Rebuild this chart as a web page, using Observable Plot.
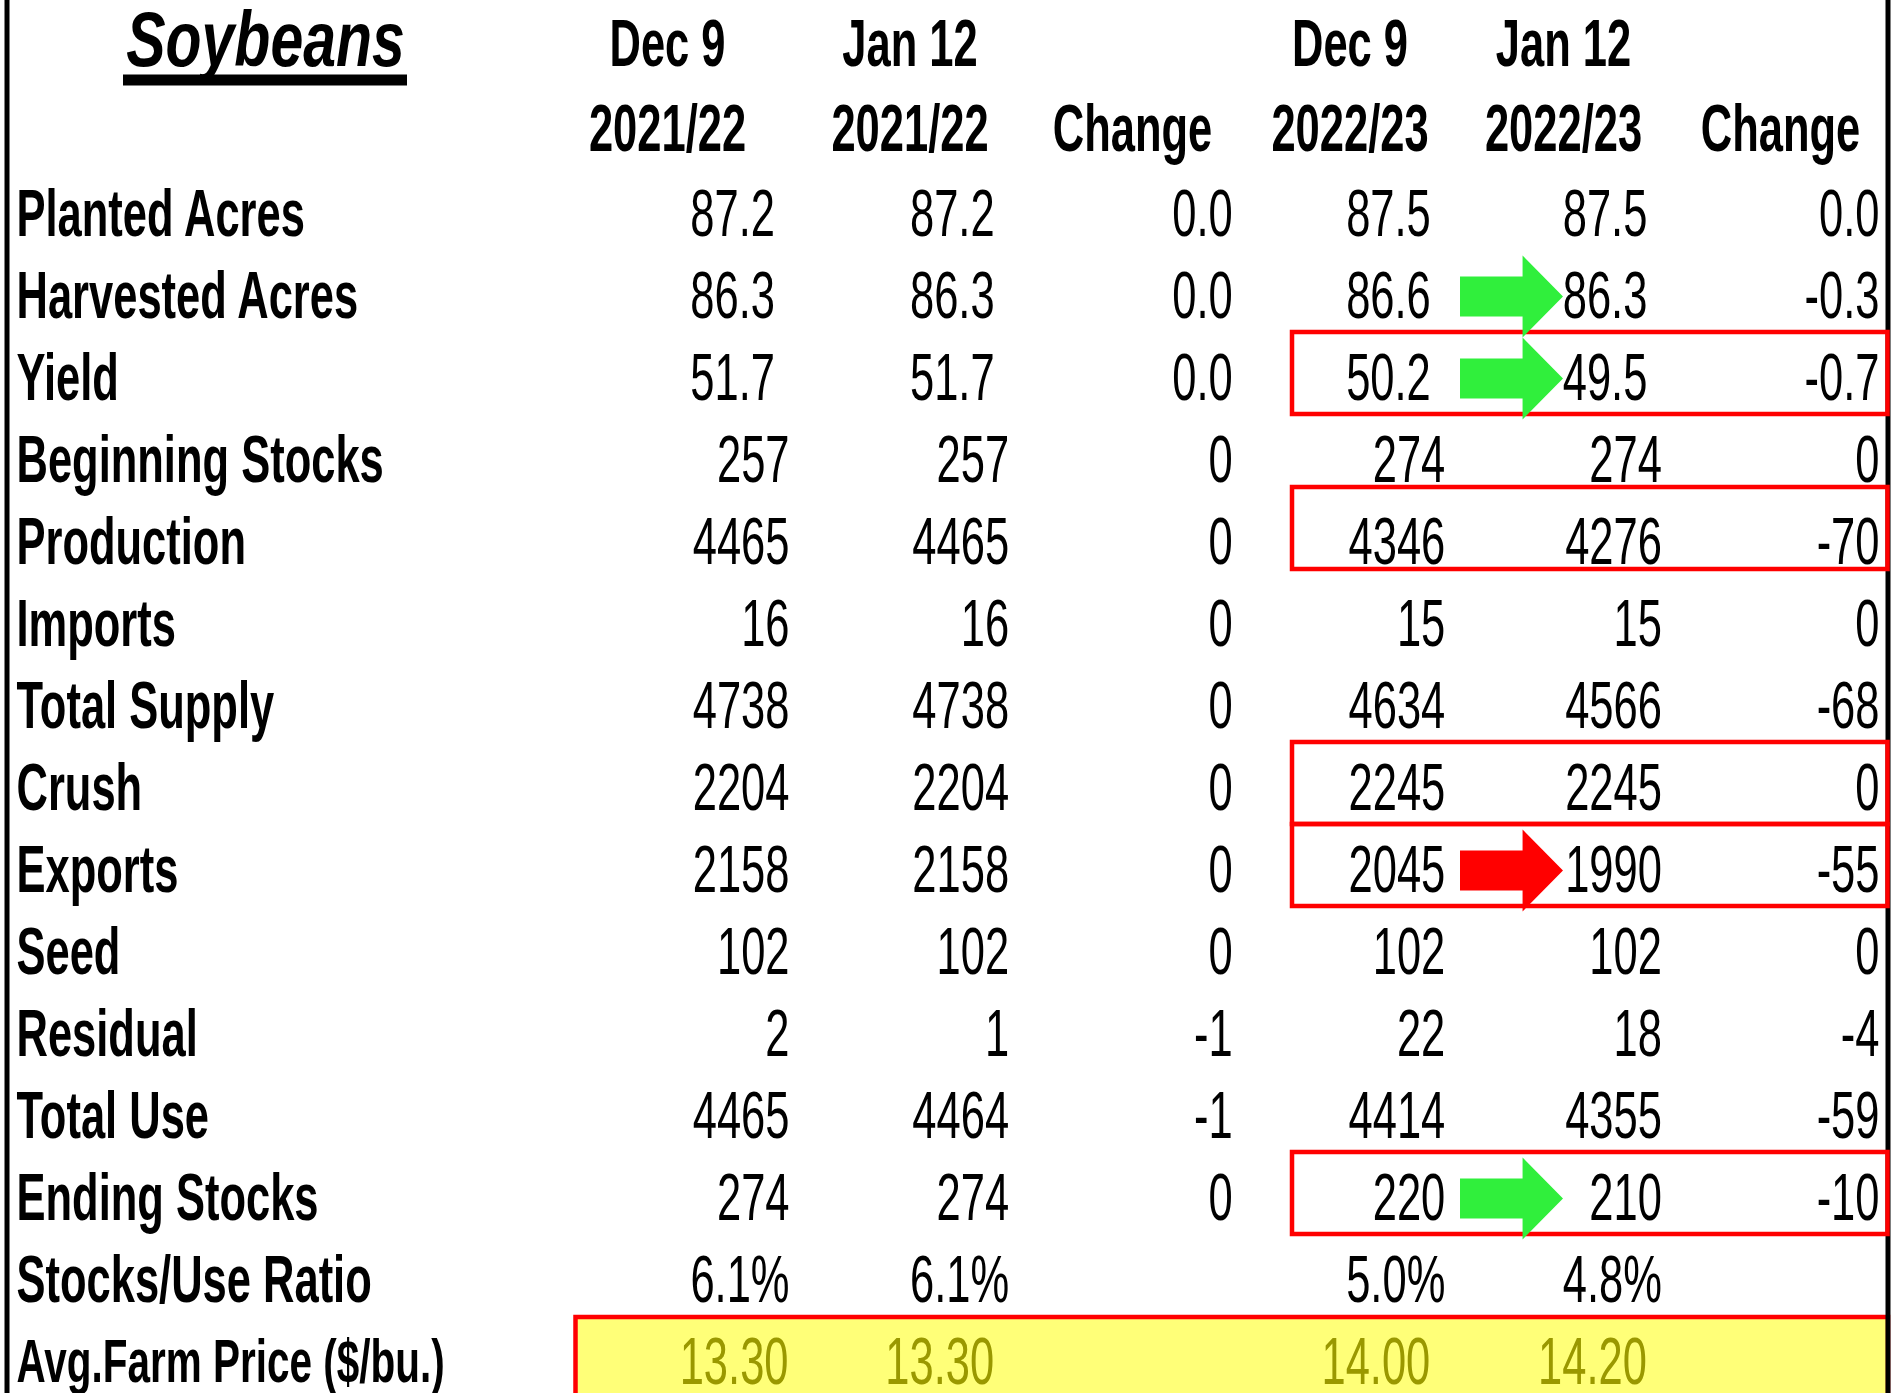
<!DOCTYPE html>
<html>
<head>
<meta charset="utf-8">
<script src="https://cdn.jsdelivr.net/npm/d3@7"></script>
<script src="https://cdn.jsdelivr.net/npm/@observablehq/plot@0.6"></script>
<style>
  html, body { margin: 0; padding: 0; background: #fff; }
  #chart svg { display: block; }
</style>
</head>
<body>
<div id="chart"></div>
<script>
// ---------------- data ----------------
const rowLabels = ["Planted Acres", "Harvested Acres", "Yield", "Beginning Stocks", "Production",
  "Imports", "Total Supply", "Crush", "Exports", "Seed", "Residual", "Total Use",
  "Ending Stocks", "Stocks/Use Ratio", "Avg.Farm Price ($/bu.)"];
const columns = ["c1", "c2", "c3", "c4", "c5", "c6"];
const headerLine1 = ["Dec 9", "Jan 12", "", "Dec 9", "Jan 12", ""];
const headerLine2 = ["2021/22", "2021/22", "Change", "2022/23", "2022/23", "Change"];
const dec9_2122  = [87.2, 86.3, 51.7, 257, 4465, 16, 4738, 2204, 2158, 102, 2, 4465, 274, 6.1, 13.30];
const jan12_2122 = [87.2, 86.3, 51.7, 257, 4465, 16, 4738, 2204, 2158, 102, 1, 4464, 274, 6.1, 13.30];
const chg_2122   = [0.0, 0.0, 0.0, 0, 0, 0, 0, 0, 0, 0, -1, -1, 0, null, null];
const dec9_2223  = [87.5, 86.6, 50.2, 274, 4346, 15, 4634, 2245, 2045, 102, 22, 4414, 220, 5.0, 14.00];
const jan12_2223 = [87.5, 86.3, 49.5, 274, 4276, 15, 4566, 2245, 1990, 102, 18, 4355, 210, 4.8, 14.20];
const chg_2223   = [0.0, -0.3, -0.7, 0, -70, 0, -68, 0, -55, 0, -4, -59, -10, null, null];
const title = "Soybeans";
const boxedRows = ["Yield", "Crush", "Exports", "Ending Stocks"];
const boxedRowsHigh = ["Production"];
const greenArrowRows = ["Harvested Acres", "Yield", "Ending Stocks"];
const redArrowRows = ["Exports"];
const priceRow = "Avg.Farm Price ($/bu.)";

// ---------------- table building ----------------
const series = [dec9_2122, jan12_2122, chg_2122, dec9_2223, jan12_2223, chg_2223];
function fmt(v, i) {
  if (v == null) return null;
  if (i < 3) return v.toFixed(1);
  if (i === 13) return v.toFixed(1) + "%";
  if (i === 14) return v.toFixed(2);
  return String(v);
}
const cells = [];
series.forEach((s, j) => s.forEach((v, i) => {
  const t = fmt(v, i);
  if (t != null) cells.push({row: rowLabels[i], col: columns[j], text: t, i, j});
}));
const headerCells = [];
columns.forEach((c, j) => {
  if (headerLine1[j]) headerCells.push({row: "_h1", col: c, text: headerLine1[j], j});
  headerCells.push({row: "_h2", col: c, text: headerLine2[j], j});
});

// ---------------- styles ----------------
const FONT = "'Liberation Sans', Arial, Helvetica, sans-serif";
const FS = 43.5;
const ROW_H = 82.14;
const Y0 = 8;
const yDomain = ["_h1", "_h2"].concat(rowLabels);
const colShift = [0, 1.6, 7.2, 1.8, 0.4, 0];
const headerDx = [-122, -97.5, -93, -93.5, -98, -99];
const changeCols = new Set([2, 5]);
const GREEN = "#30ef3c", RED = "#ff0000", YELLOW = "#ffff78", OLIVE = "#9a9800";

const blockArrow = {
  draw(ctx, size) {
    const r = Math.sqrt(size / Math.PI);
    const L = 1.256 * r, s = 0.49 * r, b = 0.27 * r;
    ctx.moveTo(-L, -s); ctx.lineTo(b, -s); ctx.lineTo(b, -r);
    ctx.lineTo(L, 0); ctx.lineTo(b, r); ctx.lineTo(b, s); ctx.lineTo(-L, s); ctx.closePath();
  }
};

const marks = [];
// yellow highlighted price row
marks.push(Plot.barX([priceRow], {y: d => d, x1: () => "c1", x2: () => "c6",
  insetLeft: -213.5, insetRight: -9, insetBottom: -40, dy: -4,
  fill: YELLOW, stroke: RED, strokeWidth: 4.5}));
// left & right border lines
marks.push(Plot.ruleX(["c1"], {x: d => d, dx: -782.5, stroke: "black", strokeWidth: 5}));
marks.push(Plot.ruleX(["c6"], {x: d => d, dx: 8.5, stroke: "black", strokeWidth: 5}));
// red boxes
marks.push(Plot.barX(boxedRows, {y: d => d, x1: () => "c4", x2: () => "c6",
  insetLeft: -151, insetRight: -8.5, dy: -5, fill: "none", stroke: RED, strokeWidth: 4.5}));
marks.push(Plot.barX(boxedRowsHigh, {y: d => d, x1: () => "c4", x2: () => "c6",
  insetLeft: -151, insetRight: -8.5, dy: -14, fill: "none", stroke: RED, strokeWidth: 4.5}));

// title + underline
marks.push(Plot.text([title], {y: () => "_h1", frameAnchor: "left", textAnchor: "middle",
  dx: 249, dy: -9, fontSize: 59, fontWeight: "bold", fontStyle: "italic", fill: "black"}));
marks.push(Plot.ruleY(["_h1"], {y: d => d, insetLeft: 107, insetRight: 1473, dy: 29.5,
  stroke: "black", strokeWidth: 11}));

// row labels
marks.push(Plot.text(rowLabels.filter(r => r !== priceRow), {y: d => d, frameAnchor: "left",
  textAnchor: "start", fontSize: FS, fontWeight: "bold", fill: "black"}));
marks.push(Plot.text([priceRow], {y: d => d, frameAnchor: "left",
  textAnchor: "start", fontSize: 40.5, fontWeight: "bold", fill: "black"}));

// headers and values, per column
columns.forEach((c, j) => {
  marks.push(Plot.text(headerCells.filter(d => d.j === j && d.row === "_h1"), {
    x: "col", y: "row", text: "text", dx: headerDx[j], dy: -5.6, textAnchor: "middle",
    fontSize: FS, fontWeight: "bold", fill: "black"}));
  marks.push(Plot.text(headerCells.filter(d => d.j === j && d.row === "_h2"), {
    x: "col", y: "row", text: "text", dx: headerDx[j], dy: -3, textAnchor: "middle",
    fontSize: FS, fontWeight: "bold", fill: "black"}));
  const mine = cells.filter(d => d.j === j);
  const padded = d => d.i < 3 && !changeCols.has(j);
  marks.push(Plot.text(mine.filter(d => d.i !== 14 && !padded(d)), {
    x: "col", y: "row", text: "text", dx: colShift[j], textAnchor: "end",
    fontSize: FS, fill: "black"}));
  marks.push(Plot.text(mine.filter(d => d.i !== 14 && padded(d)), {
    x: "col", y: "row", text: "text", dx: colShift[j] - 14.5, textAnchor: "end",
    fontSize: FS, fill: "black"}));
  marks.push(Plot.text(mine.filter(d => d.i === 14), {
    x: "col", y: "row", text: "text", dx: colShift[j] + (j === 0 ? -1 : -15), textAnchor: "end",
    fontSize: FS, fill: OLIVE}));
});

// arrows
marks.push(Plot.dot(greenArrowRows, {x: () => "c5", y: d => d, r: 41, symbol: blockArrow,
  dx: -150, fill: GREEN, stroke: "none"}));
marks.push(Plot.dot(redArrowRows, {x: () => "c5", y: d => d, r: 41, symbol: blockArrow,
  dx: -150, fill: RED, stroke: "none"}));

const chart = Plot.plot({
  width: 1891,
  height: 1393,
  marginTop: 0, marginBottom: 0, marginLeft: 16, marginRight: 11,
  style: {fontFamily: FONT, background: "white", color: "black", overflow: "hidden"},
  x: {type: "point", domain: columns, range: [788, 1880], padding: 0, axis: null},
  y: {type: "band", domain: yDomain, range: [Y0, Y0 + ROW_H * yDomain.length], padding: 0, align: 0.5, axis: null},
  marks
});
document.getElementById("chart").append(chart);

// vertical stretch of glyphs (the source table uses tall condensed lettering)
chart.querySelectorAll("text").forEach(t => {
  const fs = parseFloat(getComputedStyle(t).fontSize);
  const k = fs > 50 ? 1.32 : (fs < 42 ? 1.5 : 1.55);
  const tr = t.getAttribute("transform");
  if (tr) {
    t.setAttribute("transform", tr + ` scale(1,${k})`);
  } else {
    const x = parseFloat(t.getAttribute("x")) || 0;
    const yAttr = t.getAttribute("y") || "0";
    if (/em$/.test(yAttr)) {
      t.setAttribute("transform", `translate(${x},0) scale(1,${k})`);
      t.setAttribute("x", 0);
    } else {
      t.setAttribute("transform", `translate(${x},${parseFloat(yAttr) || 0}) scale(1,${k})`);
      t.setAttribute("x", 0); t.setAttribute("y", 0);
    }
  }
});
</script>
</body>
</html>
